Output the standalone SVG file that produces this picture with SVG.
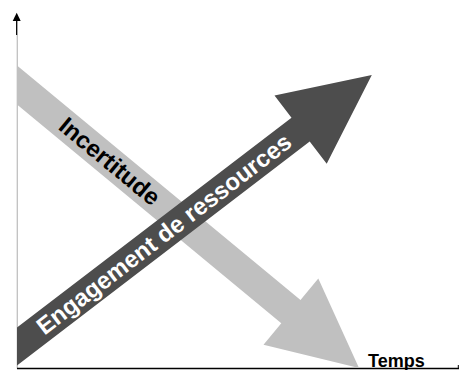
<svg xmlns="http://www.w3.org/2000/svg" width="459" height="370" viewBox="0 0 459 370">
<style>
.lbl{font-family:"Liberation Sans",Arial,sans-serif;font-weight:bold;}
.big{font-size:24px;text-anchor:middle;}
</style>
<rect width="459" height="370" fill="#ffffff"/>
<g id="axes">
<line x1="17.3" y1="35" x2="17.3" y2="368.5" stroke="#c0c0c0" stroke-width="1.3"/>
<line x1="16.7" y1="20" x2="16.7" y2="35" stroke="#000" stroke-width="1.3"/>
<polygon points="16.7,12.7 12.7,21 20.7,21" fill="#000"/>
<line x1="17" y1="368.5" x2="459" y2="368.5" stroke="#000" stroke-width="1.5"/>
<line x1="458.3" y1="365" x2="458.3" y2="368.5" stroke="#000" stroke-width="1"/>
</g>
<g id="connectors">
<g id="incertitude">
<polygon points="17,65.5 300.5,300 318.3,278.5 359,368 263.5,344.7 281.3,323.2 17,104.5" fill="#c0c0c0"/>
<text class="lbl big" fill="#000" transform="translate(109.5,161.5) rotate(39.6)" x="0" y="8">Incertitude</text>
</g>
<g id="engagement">
<polygon points="17,327.6 291.5,117.7 274.5,95.4 371.8,75.1 326.7,163.8 309.7,141.5 17,365.4" fill="#4d4d4d"/>
<text class="lbl big" fill="#fff" transform="translate(164,234.1) rotate(-37.43)" x="0" y="8">Engagement de ressources</text>
</g>
</g>
<g id="temps">
<text class="lbl" font-size="18" x="368" y="366.7" fill="#000">Temps</text>
</g>
</svg>
